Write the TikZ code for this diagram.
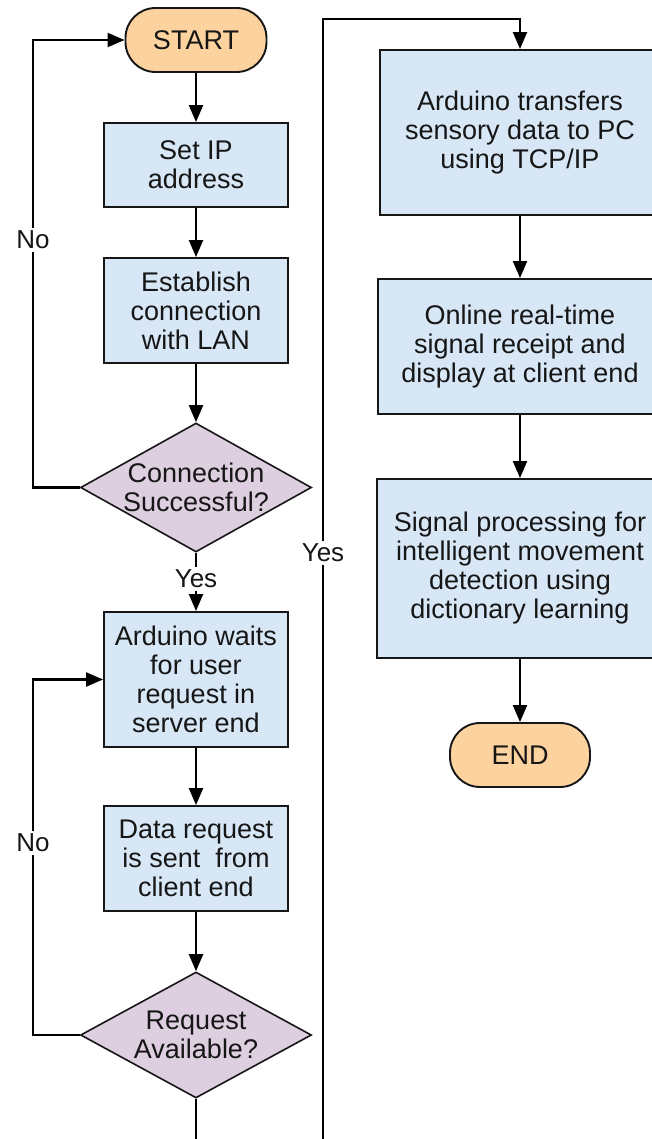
\documentclass[tikz,border=0pt]{standalone}
\usepackage{fontspec}
\setmainfont{Liberation Sans}
\usetikzlibrary{arrows.meta,shapes.geometric}

\definecolor{procfill}{RGB}{215,231,246}
\definecolor{termfill}{RGB}{252,210,158}
\definecolor{decfill}{RGB}{222,207,224}
\definecolor{ink}{RGB}{22,22,22}

\tikzset{
  txt/.style={text=ink, align=center, inner sep=0pt, font=\fontsize{27}{29}\selectfont},
  base/.style={txt, draw=ink, line width=1.9pt},
  proc/.style={base, rectangle, fill=procfill},
  term/.style={base, rectangle, rounded corners=30pt, fill=termfill},
  decision/.style={base, diamond, fill=decfill, line width=1.6pt},
  flow/.style={draw=black, line width=2.2pt, -{Triangle[length=17pt,width=14pt]}},
  tag/.style={fill=white, inner sep=3pt, text=ink, font=\fontsize{26}{28}\selectfont},
}

\begin{document}
\begin{tikzpicture}[x=1pt,y=-1pt]
\useasboundingbox (0,0) rectangle (652,1139);

% left column
\node[term, minimum width=141pt, minimum height=64pt] (start) at (196,40) {START};
\node[proc, minimum width=184pt, minimum height=84pt] (ip) at (196,165) {Set IP\\address};
\node[proc, minimum width=184pt, minimum height=105pt] (lan) at (196,310.5) {Establish\\connection\\with LAN};
\node[decision, minimum width=231pt, minimum height=129pt,
      label={[txt]center:Connection\\Successful?}] (conn) at (196,487.5) {};
\node[proc, minimum width=184pt, minimum height=135pt] (wait) at (196,679.5) {Arduino waits\\for user\\request in\\server end};
\node[proc, minimum width=184pt, minimum height=105pt] (data) at (196,858.5) {Data request\\is sent\ \ from\\client end};
\node[decision, minimum width=231pt, minimum height=126pt,
      label={[txt]center:Request\\Available?}] (req) at (196,1035) {};

% right column
\node[proc, minimum width=280pt, minimum height=165pt] (tcp) at (520,132.5) {Arduino transfers\\sensory data to PC\\using TCP/IP};
\node[proc, minimum width=284pt, minimum height=135pt] (online) at (520,346.5) {Online real-time\\signal receipt and\\display at client end};
\node[proc, minimum width=286pt, minimum height=179pt] (sig) at (520,568.5) {Signal processing for\\intelligent movement\\detection using\\dictionary learning};
\node[term, minimum width=140pt, minimum height=64pt] (end) at (520,755) {END};

% routing rails
\coordinate (railL) at (33,0);
\coordinate (topR) at (323,19);
\coordinate (botY) at (196,1165);

% main flow
\draw[flow] (start) -- (ip);
\draw[flow] (ip) -- (lan);
\draw[flow] (lan) -- (conn);
\draw[flow] (conn) -- node[tag, pos=0.45] {Yes} (wait);
\draw[flow] (wait) -- (data);
\draw[flow] (data) -- (req);
\draw[flow] (tcp) -- (online);
\draw[flow] (online) -- (sig);
\draw[flow] (sig) -- (end);

% loops back
\draw[flow] (conn.west) -| node[tag, pos=0.777] {No} (railL |- start.west) -- (start.west);
\draw[flow] (req.west) -| node[tag, pos=0.77] {No} (railL |- wait.west) -- (wait.west);

% request available: on to the transfer stage
\draw[flow] (req.south) -- (botY) -| node[tag, pos=0.767] {Yes} (topR) -| (tcp.north);
\end{tikzpicture}
\end{document}
